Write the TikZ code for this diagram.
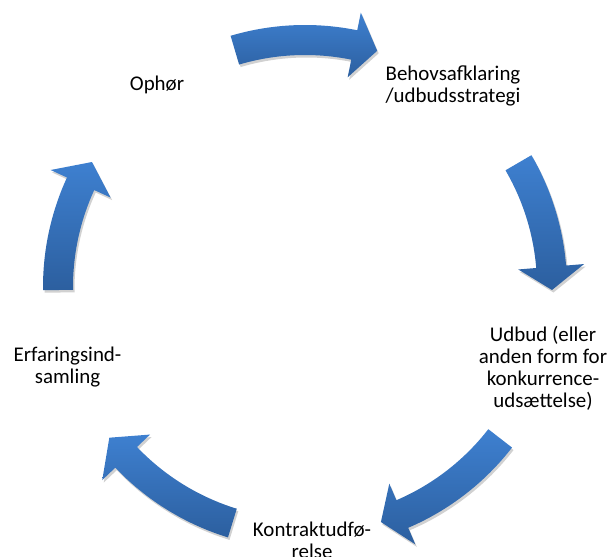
\documentclass[tikz,border=0pt]{standalone}
\usepackage{fontspec}
\setmainfont{Carlito}
\usepackage{tikz}
\usetikzlibrary{positioning,calc,shadows}

\definecolor{arrowtop}{HTML}{3E80D0}
\definecolor{arrowbot}{HTML}{2C5F9F}

% block arrow on the cycle: tail angle, head base angle, tip angle
\newcommand{\cycarrow}[3]{%
  \path[cyclearrow]
    ($(hub)+(#1:262)$) arc[start angle=#1, end angle=#2, radius=262bp]
    -- ($(hub)+(#2:280)$) -- ($(hub)+(#3:247)$) -- ($(hub)+(#2:214)$)
    -- ($(hub)+(#2:232)$) arc[start angle=#2, end angle=#1, radius=232bp]
    -- cycle;}

\begin{document}
\begin{tikzpicture}[
    x=1bp, y=1bp,
    every node/.style={align=center, inner sep=0pt},
    stage/.style={font=\fontsize{21}{22}\selectfont, text=black},
    cyclearrow/.style={top color=arrowtop, bottom color=arrowbot, draw=none,
        drop shadow={shadow xshift=1.5bp, shadow yshift=-2.5bp, opacity=0.18, fill=black}}
]
\useasboundingbox (0,0) rectangle (611,557);
\coordinate (hub) at (305,270);

% Stages
\node[stage] (ophor) at (157,472) {Ophør};
\node[stage] (behov) at (453,471) {Behovsafklaring\\/udbudsstrategi};
\node[stage] (udbud) at (543,189) {Udbud (eller\\anden form for\\konkurrence-\\udsættelse)};
\node[stage] (kontrakt) at (312,17) {Kontraktudfø-\\relse};
\node[stage] (erfaring) at (67.5,190) {Erfaringsind-\\samling};

% Arrows between stages
\cycarrow{106.5}{78.5}{73}
\cycarrow{30.2}{4.7}{-0.7}
\cycarrow{322.2}{293.2}{287.9}
\cycarrow{252.9}{223.6}{217.6}
\cycarrow{180.7}{155.3}{149.6}
\end{tikzpicture}
\end{document}
